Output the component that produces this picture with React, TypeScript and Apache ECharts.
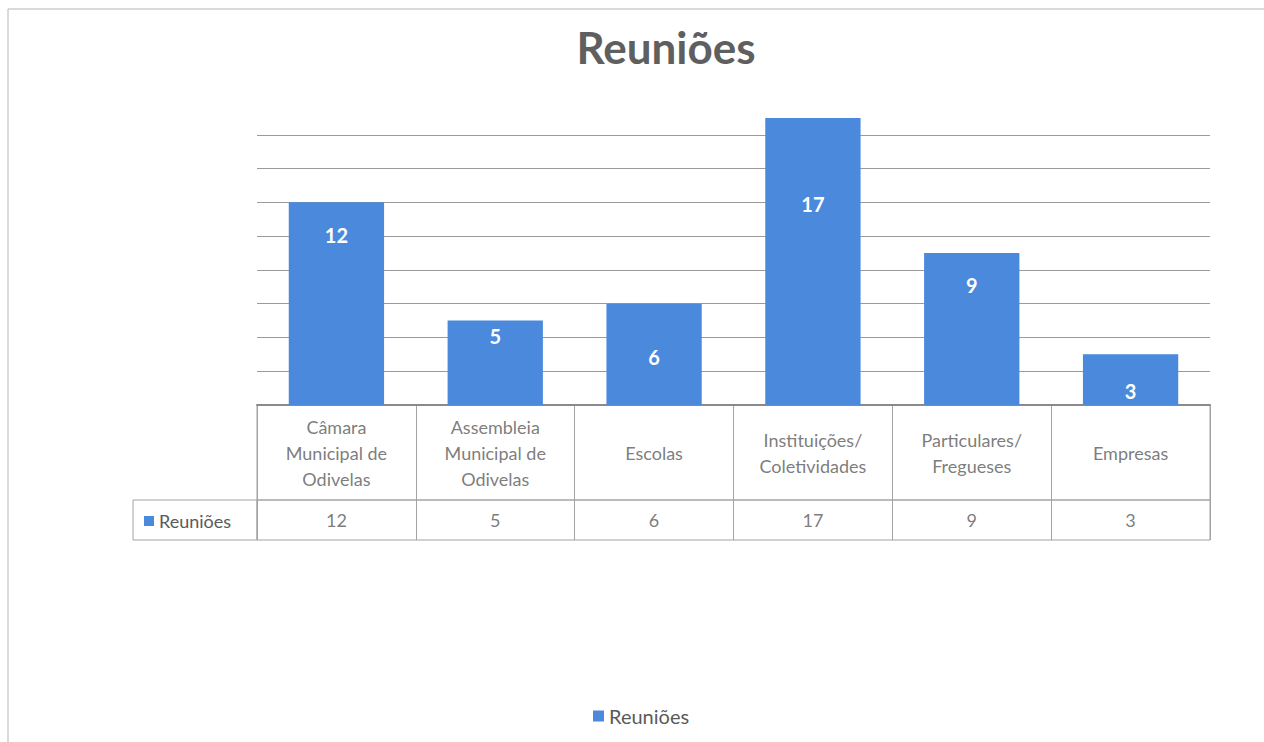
import React, { useEffect, useRef } from "react";
import * as echarts from "echarts";

const title = "Reuniões";
const seriesName = "Reuniões";
const categories = [
  "Câmara\nMunicipal de\nOdivelas",
  "Assembleia\nMunicipal de\nOdivelas",
  "Escolas",
  "Instituições/\nColetividades",
  "Particulares/\nFregueses",
  "Empresas",
];
const values = [12, 5, 6, 17, 9, 3];
const yMax = 18;
const yStep = 2;

// styling: vertical nudges of the data labels inside the bars (as in the original)
const labelNudge = [18, 0, 38, 71, 17, 22];

const FONT = "Lato, 'Open Sans', sans-serif";
const BLUE = "#4A89DC";
const TEXT = "#5a5a5a";
const BORDER = "#a3a3a3";

const PLOT_LEFT = 257;
const PLOT_WIDTH = 953;

export default function App() {
  const ref = useRef<HTMLDivElement>(null);
  useEffect(() => {
    if (!ref.current) return;
    const chart = echarts.init(ref.current, undefined, { renderer: "svg" });
    const nTicks = yMax / yStep + 1;
    const splitColors = Array.from({ length: nTicks }, (_, i) =>
      i === nTicks - 1 ? "rgba(0,0,0,0)" : "#9a9a9a"
    );
    const option: any = {
      animation: false,
      backgroundColor: "#ffffff",
      textStyle: { fontFamily: FONT },
      title: {
        text: title,
        left: 661,
        top: 20,
        textAlign: "center",
        textStyle: { fontSize: 44, fontWeight: "bold", color: "#5f5f5f", fontFamily: FONT },
      },
      legend: [
        {
          data: [seriesName],
          left: 588,
          top: 701,
          icon: "rect",
          itemWidth: 11,
          itemHeight: 11,
          itemGap: 8,
          textStyle: { fontSize: 20, color: TEXT, fontFamily: FONT },
          selectedMode: false,
        },
        {
          data: [seriesName],
          left: 139,
          top: 507,
          icon: "rect",
          itemWidth: 10,
          itemHeight: 10,
          textStyle: { fontSize: 18, color: TEXT, fontFamily: FONT },
          selectedMode: false,
        },
      ],
      grid: [
        { left: PLOT_LEFT, width: PLOT_WIDTH, top: 101, height: 304 },
        {
          left: PLOT_LEFT,
          width: PLOT_WIDTH,
          top: 405,
          height: 95,
          show: true,
          borderColor: BORDER,
          borderWidth: 1,
          backgroundColor: "transparent",
        },
        {
          left: PLOT_LEFT,
          width: PLOT_WIDTH,
          top: 500,
          height: 40,
          show: true,
          borderColor: BORDER,
          borderWidth: 1,
          backgroundColor: "transparent",
        },
      ],
      xAxis: [
        {
          gridIndex: 0,
          type: "category",
          data: categories,
          axisLabel: { show: false },
          axisTick: { show: false },
          axisLine: { show: true, lineStyle: { color: "#8a8a8a", width: 2 } },
        },
        {
          gridIndex: 1,
          type: "category",
          data: categories,
          axisLabel: { show: false },
          axisTick: { show: false },
          axisLine: { show: false },
          splitLine: { show: true, lineStyle: { color: BORDER, width: 1 } },
        },
        {
          gridIndex: 2,
          type: "category",
          data: categories,
          axisLabel: { show: false },
          axisTick: { show: false },
          axisLine: { show: false },
          splitLine: { show: true, lineStyle: { color: BORDER, width: 1 } },
        },
      ],
      yAxis: [
        {
          gridIndex: 0,
          type: "value",
          min: 0,
          max: yMax,
          interval: yStep,
          axisLabel: { show: false },
          axisLine: { show: false },
          axisTick: { show: false },
          splitLine: { show: true, lineStyle: { color: splitColors, width: 1 } },
        },
        { gridIndex: 1, type: "value", min: 0, max: 1, show: false },
        { gridIndex: 2, type: "value", min: 0, max: 1, show: false },
      ],
      series: [
        {
          name: seriesName,
          type: "bar",
          xAxisIndex: 0,
          yAxisIndex: 0,
          barWidth: "60%",
          itemStyle: { color: BLUE },
          data: values.map((v, i) => ({
            value: v,
            label: { offset: [0, labelNudge[i]] },
          })),
          label: {
            show: true,
            position: "insideTop",
            distance: 5,
            color: "#ffffff",
            fontWeight: "bold",
            fontSize: 20,
            fontFamily: FONT,
          },
        },
        {
          name: "header",
          type: "scatter",
          xAxisIndex: 1,
          yAxisIndex: 1,
          symbolSize: 1,
          itemStyle: { color: "rgba(0,0,0,0)" },
          silent: true,
          data: categories.map((c, i) => [i, 0.5, c]),
          label: {
            show: true,
            position: "inside",
            formatter: (p: any) => p.data[2],
            color: TEXT,
            fontSize: 18,
            lineHeight: 26,
            align: "center",
            verticalAlign: "middle",
            fontFamily: FONT,
          },
        },
        {
          name: "values",
          type: "scatter",
          xAxisIndex: 2,
          yAxisIndex: 2,
          symbolSize: 1,
          itemStyle: { color: "rgba(0,0,0,0)" },
          silent: true,
          data: values.map((v, i) => [i, 0.5, v]),
          label: {
            show: true,
            position: "inside",
            formatter: (p: any) => String(p.data[2]),
            color: TEXT,
            fontSize: 18,
            align: "center",
            verticalAlign: "middle",
            fontFamily: FONT,
          },
        },
      ],
      graphic: [
        {
          type: "rect",
          shape: { x: 133, y: 500, width: PLOT_LEFT - 133, height: 40 },
          style: { fill: "none", stroke: BORDER, lineWidth: 1 },
          silent: true,
        },
        {
          type: "line",
          shape: { x1: 8, y1: 9, x2: 1264, y2: 9 },
          style: { stroke: "#b5b5b5", lineWidth: 1 },
          silent: true,
        },
        {
          type: "line",
          shape: { x1: 8, y1: 9, x2: 8, y2: 742 },
          style: { stroke: "#b5b5b5", lineWidth: 1 },
          silent: true,
        },
      ],
    };
    chart.setOption(option);
    return () => chart.dispose();
  }, []);
  return (
    <div
      ref={ref}
      style={{ position: "fixed", left: 0, top: 0, width: 1264, height: 742, background: "#fff" }}
    />
  );
}
